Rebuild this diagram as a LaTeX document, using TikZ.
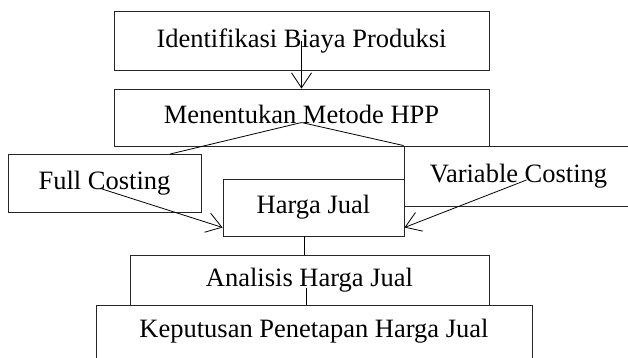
\documentclass[tikz,border=0pt]{standalone}
\usepackage{fontspec}
\setmainfont{Liberation Serif}
\usepackage{tikz}
\usetikzlibrary{arrows.meta,calc}
\tikzset{
  procbox/.style={
    rectangle, draw=black!85, line width=0.9pt,
    minimum width=#1, inner sep=0pt,
    font=\fontsize{26.5}{30}\selectfont, align=center,
    text height=18pt, text depth=5.5pt
  },
  procbox/.default=180pt,
  flowarrow/.style={
    -{Straight Barb[length=15pt,width=20pt,line width=0.8pt]}, line width=0.8pt, color=black
  },
  flowline/.style={line width=0.8pt, color=black},
}

\begin{document}
\begin{tikzpicture}[x=1pt, y=-1pt]
  \useasboundingbox (0,0) rectangle (628,357);
  \node[procbox=375pt, minimum height=59.5pt] (ident) at (301.5,40.75) {Identifikasi Biaya Produksi};
  \node[procbox=375pt, minimum height=57pt] (metode) at (301.5,117.5) {Menentukan Metode HPP};
  \node[procbox=193pt, minimum height=58pt] (full) at (104.5,183.5) {Full Costing};
  \node[procbox=229pt, minimum height=60pt] (variable) at (518.5,176) {Variable Costing};
  \node[procbox=181pt, minimum height=57pt] (harga) at (313.5,207.5) {Harga Jual};
  \node[procbox=359pt, minimum height=50pt] (analisis) at (309.5,280) {Analisis Harga Jual};
  \node[procbox=436pt, minimum height=53pt] (keputusan) at (314,331.5) {Keputusan Penetapan Harga Jual};
  % connectors
  \coordinate (split) at ($(metode.center)+(0,5)$);
  \draw[flowarrow] (ident.center) -- (metode.north);
  \draw[flowline] (split) -- ($(full.north)+(65.5,0)$);
  \draw[flowline] (split) -- (variable.north west);
  \draw[flowarrow] ($(full.center)+(-4,5)$) -- ($(harga.west)+(0,20)$);
  \draw[flowarrow] ($(variable.center)+(8,4)$) -- ($(harga.east)+(0,20)$);
  \draw[flowline] ($(harga.south)+(-9.5,0)$) -- ($(analisis.north)+(-5.5,0)$);
  \draw[flowline] ($(analisis.center)+(-3.5,8)$) -- ($(keputusan.north)+(-8,0)$);
\end{tikzpicture}
\end{document}
